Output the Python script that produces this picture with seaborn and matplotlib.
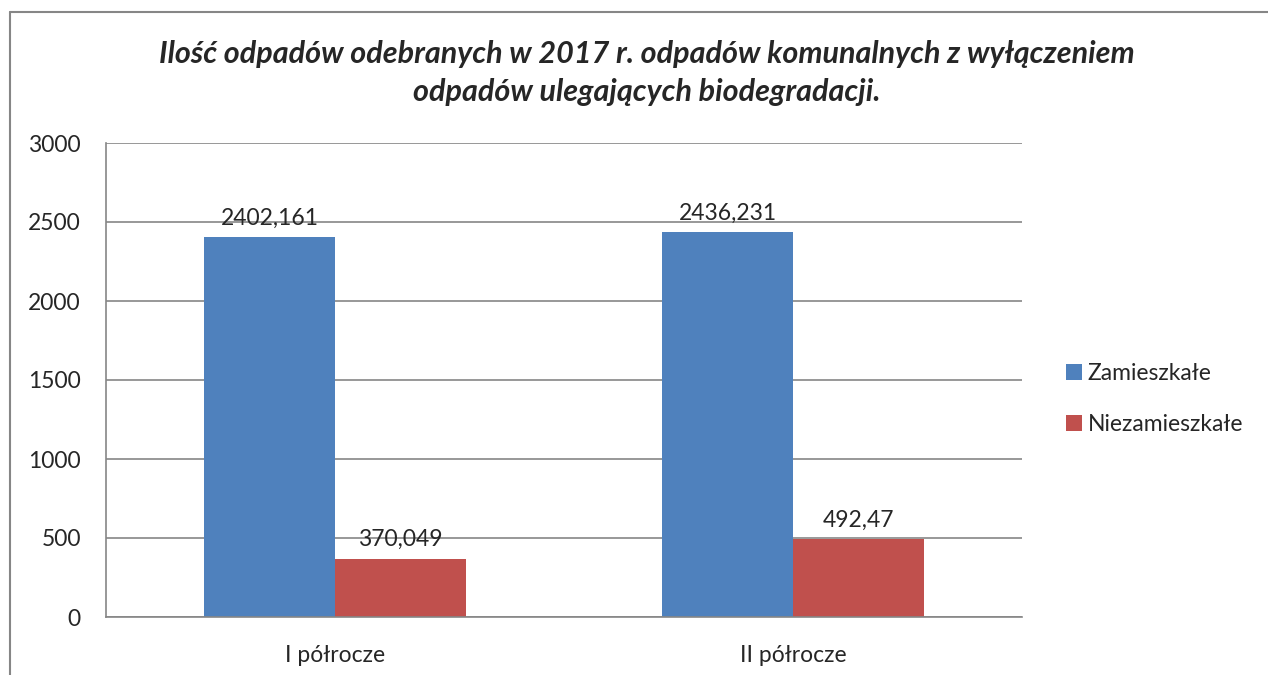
import pandas as pd
import numpy as np
import matplotlib.pyplot as plt
import seaborn as sns
from matplotlib.lines import Line2D
from matplotlib.patches import Patch

# data
categories = ["I półrocze", "II półrocze"]
series = ["Zamieszkałe", "Niezamieszkałe"]
zamieszkale = [2402.161, 2436.231]
niezamieszkale = [370.049, 492.47]
value_labels = {"Zamieszkałe": ["2402,161", "2436,231"],
                "Niezamieszkałe": ["370,049", "492,47"]}
colors = ["#4F81BD", "#C0504D"]
title = ("Ilość odpadów odebranych w 2017 r. odpadów komunalnych z wyłączeniem\n"
         "odpadów ulegających biodegradacji.")

df = pd.DataFrame({
    "okres": categories * 2,
    "typ": [series[0]] * 2 + [series[1]] * 2,
    "wartosc": zamieszkale + niezamieszkale,
})

sns.set_style("white")
plt.rcParams["font.family"] = ["Lato", "DejaVu Sans"]

fig = plt.figure(figsize=(12.68, 6.75), dpi=100)
ax = fig.add_axes([106 / 1268, 1 - 617 / 675, 916 / 1268, 474 / 675])

sns.barplot(data=df, x="okres", y="wartosc", hue="typ", hue_order=series,
            palette=colors, width=0.57, saturation=1, linewidth=0,
            ax=ax, legend=False)

# value labels above bars
for cont, name in zip(ax.containers, series):
    ax.bar_label(cont, labels=value_labels[name], padding=6, fontsize=16.5)

ax.set_ylim(0, 3000)
ax.set_yticks(range(0, 3001, 500))
ax.set_xlabel("")
ax.set_ylabel("")
ax.yaxis.grid(True, color="#868686", linewidth=1.2)
ax.set_axisbelow(True)
for side in ["top", "right"]:
    ax.spines[side].set_visible(False)
for side in ["left", "bottom"]:
    ax.spines[side].set_color("#868686")
    ax.spines[side].set_linewidth(1.2)
ax.tick_params(axis="y", labelsize=16.5, pad=18, length=0)
ax.tick_params(axis="x", labelsize=16.5, pad=20, length=0)

# legend
handles = [Patch(facecolor=c, edgecolor="none") for c in colors]
fig.legend(handles, series, loc="center left", bbox_to_anchor=(1045 / 1268, 1 - 399 / 675),
           frameon=False, fontsize=16.5, handlelength=0.7, handleheight=0.7,
           handletextpad=0.25, labelspacing=1.3)

fig.text(0.510, 1 - 73 / 675, title, ha="center", va="center", fontsize=22,
         fontweight="bold", fontstyle="italic", linespacing=1.4)

# outer chart frame (top and left visible)
fig.add_artist(Line2D([10 / 1268, 1], [1 - 12 / 675, 1 - 12 / 675],
                      color="#868686", linewidth=1.5, transform=fig.transFigure))
fig.add_artist(Line2D([10 / 1268, 10 / 1268], [0, 1 - 12 / 675],
                      color="#868686", linewidth=1.5, transform=fig.transFigure))

fig.savefig("out.png", dpi=100)
